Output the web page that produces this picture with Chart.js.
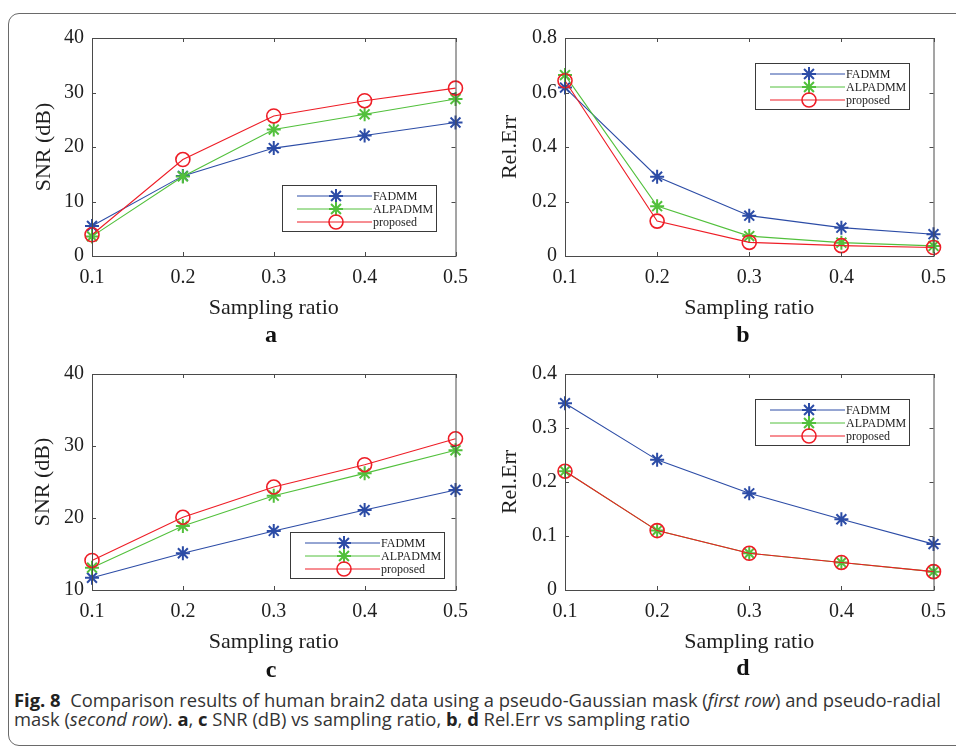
<!DOCTYPE html>
<html>
<head>
<meta charset="utf-8">
<script src="https://cdn.jsdelivr.net/npm/chart.js@4.4.1/dist/chart.umd.min.js"></script>
<style>
  body { margin: 0; background: #fff; width: 956px; height: 749px; overflow: hidden; position: relative; }
  .frame { position: absolute; left: 8px; top: 13px; width: 1000px; height: 731px; border: 1px solid #6a6a6a; border-radius: 11px; }
  .panel { position: absolute; }
  .letter { position: absolute; font: bold 24px "Liberation Serif", serif; line-height: 24px; color: #111; transform: translateX(-50%); }
  .cap { position: absolute; left: 14px; font: 18px "Open Sans", sans-serif; line-height: 20px; white-space: nowrap; transform-origin: 0 50%; color: #333; }
  .cap b { color: #222; }
</style>
</head>
<body>
<div class="frame"></div>

<div class="panel" style="left:0;top:0"><canvas id="chartA" width="478" height="326"></canvas></div>
<div class="panel" style="left:478px;top:0"><canvas id="chartB" width="478" height="326"></canvas></div>
<div class="panel" style="left:0;top:336px"><canvas id="chartC" width="478" height="324"></canvas></div>
<div class="panel" style="left:478px;top:336px"><canvas id="chartD" width="478" height="324"></canvas></div>

<div class="letter" style="left:271px;top:322px">a</div>
<div class="letter" style="left:743px;top:322px">b</div>
<div class="letter" style="left:271px;top:657px">c</div>
<div class="letter" style="left:743px;top:655px">d</div>

<div class="cap" id="cap1" style="top:690px"><b>Fig. 8</b>&nbsp; Comparison results of human brain2 data using a pseudo-Gaussian mask (<i>first row</i>) and pseudo-radial</div>
<div class="cap" id="cap2" style="top:709px">mask (<i>second row</i>). <b>a</b>, <b>c</b> SNR (dB) vs sampling ratio, <b>b</b>, <b>d</b> Rel.Err vs sampling ratio</div>

<script>
// data
const ratios = ['0.1', '0.2', '0.3', '0.4', '0.5'];
const methods = ['FADMM', 'ALPADMM', 'proposed'];

// a: SNR, pseudo-Gaussian mask
const snrGaussFADMM    = [5.5, 14.7, 19.8, 22.1, 24.5];
const snrGaussALPADMM  = [3.6, 14.6, 23.2, 26.0, 28.8];
const snrGaussProposed = [3.9, 17.7, 25.7, 28.5, 30.8];

// b: Rel.Err, pseudo-Gaussian mask
const errGaussFADMM    = [0.618, 0.291, 0.148, 0.104, 0.080];
const errGaussALPADMM  = [0.664, 0.183, 0.073, 0.049, 0.037];
const errGaussProposed = [0.643, 0.128, 0.050, 0.038, 0.031];

// c: SNR, pseudo-radial mask
const snrRadialFADMM    = [11.7, 15.1, 18.2, 21.1, 23.9];
const snrRadialALPADMM  = [13.1, 18.9, 23.1, 26.2, 29.4];
const snrRadialProposed = [14.1, 20.1, 24.3, 27.4, 31.0];

// d: Rel.Err, pseudo-radial mask
const errRadialFADMM    = [0.346, 0.241, 0.179, 0.131, 0.085];
const errRadialALPADMM  = [0.220, 0.110, 0.068, 0.051, 0.034];
const errRadialProposed = [0.220, 0.110, 0.068, 0.051, 0.034];

const colors = ['#2c4ca6', '#52c03c', '#ee1d26'];
const markers = ['star', 'star', 'circle'];
const markerWidths = [2, 2, 1.6];
const serif = '"Liberation Serif", "Times New Roman", serif';
const ink = '#1e1e1e';

function drawMarker(ctx, style, x, y, r) {
  ctx.beginPath();
  if (style === 'circle') {
    ctx.arc(x, y, r, 0, Math.PI * 2);
  } else {
    for (let k = 0; k < 4; k++) {
      const a = k * Math.PI / 4;
      ctx.moveTo(x - r * Math.cos(a), y - r * Math.sin(a));
      ctx.lineTo(x + r * Math.cos(a), y + r * Math.sin(a));
    }
  }
  ctx.stroke();
}

// MATLAB-style box, inward ticks and inset legend
const boxPlugin = {
  id: 'matlabBox',
  afterDraw(chart, args, opts) {
    const { ctx, chartArea: a, scales } = chart;
    ctx.save();
    ctx.strokeStyle = '#4a4a4a';
    ctx.lineWidth = 1;
    ctx.strokeRect(a.left + 0.5, a.top + 0.5, a.right - a.left, a.bottom - a.top);
    const tl = 4;
    ctx.beginPath();
    scales.x.ticks.forEach((t, i) => {
      const px = Math.round(scales.x.getPixelForTick(i)) + 0.5;
      ctx.moveTo(px, a.bottom); ctx.lineTo(px, a.bottom - tl);
      ctx.moveTo(px, a.top); ctx.lineTo(px, a.top + tl);
    });
    scales.y.ticks.forEach(t => {
      const py = Math.round(scales.y.getPixelForValue(t.value)) + 0.5;
      ctx.moveTo(a.left, py); ctx.lineTo(a.left + tl, py);
      ctx.moveTo(a.right, py); ctx.lineTo(a.right - tl, py);
    });
    ctx.stroke();

    // legend
    const w = 154, h = 46;
    const lx = a.left + opts.dx;
    const ly = opts.fromTop ? a.top + opts.dy : a.bottom - opts.dy - h;
    ctx.fillStyle = '#fff';
    ctx.fillRect(lx, ly, w, h);
    ctx.strokeStyle = '#3a3a3a';
    ctx.strokeRect(Math.round(lx) + 0.5, Math.round(ly) + 0.5, w, h);
    chart.data.datasets.forEach((ds, i) => {
      const ry = ly + 11 + i * 13;
      ctx.strokeStyle = ds.borderColor;
      ctx.lineWidth = 1;
      ctx.beginPath();
      ctx.moveTo(lx + 15, ry); ctx.lineTo(lx + 90, ry);
      ctx.stroke();
      ctx.lineWidth = ds.pointBorderWidth;
      drawMarker(ctx, ds.pointStyle, lx + 54, ry, 7);
      ctx.fillStyle = ink;
      ctx.font = '12px ' + serif;
      ctx.textBaseline = 'middle';
      ctx.textAlign = 'left';
      ctx.fillText(ds.label, lx + 91, ry + 1);
    });
    ctx.restore();
  }
};

function makeDatasets(seriesList) {
  return seriesList.map((vals, i) => ({
    label: methods[i],
    data: vals,
    borderColor: colors[i],
    backgroundColor: 'rgba(0,0,0,0)',
    borderWidth: 1.1,
    pointStyle: markers[i],
    pointRadius: 7,
    pointHoverRadius: 7,
    pointBorderWidth: markerWidths[i],
    pointBorderColor: colors[i],
    pointBackgroundColor: 'rgba(0,0,0,0)',
    tension: 0,
    clip: false,
    order: 2 - i
  }));
}

function makePanel(id, seriesList, yTitle, yMin, yMax, yStep, axisWidth, titlePad, padRight, legend) {
  new Chart(document.getElementById(id), {
    type: 'line',
    data: { labels: ratios, datasets: makeDatasets(seriesList) },
    options: {
      responsive: false,
      animation: false,
      events: [],
      layout: { padding: { top: 38, right: padRight, left: 0, bottom: 0 } },
      plugins: {
        legend: { display: false },
        tooltip: { enabled: false },
        matlabBox: legend
      },
      scales: {
        x: {
          type: 'category',
          offset: false,
          grid: { display: false, drawTicks: false },
          border: { display: false },
          ticks: { font: { family: serif, size: 20 }, color: ink, padding: 10, maxRotation: 0 },
          title: { display: true, text: 'Sampling ratio', font: { family: serif, size: 22 }, color: ink, padding: { top: 0, bottom: 5 } },
          afterFit(s) { s.height = 70; }
        },
        y: {
          min: yMin, max: yMax,
          grid: { display: false, drawTicks: false },
          border: { display: false },
          ticks: { stepSize: yStep, font: { family: serif, size: 20 }, color: ink, padding: 8 },
          title: { display: true, text: yTitle, font: { family: serif, size: 22 }, color: ink, padding: { top: titlePad, bottom: 0 } },
          afterFit(s) { s.width = axisWidth; }
        }
      }
    },
    plugins: [boxPlugin]
  });
}

makePanel('chartA', [snrGaussFADMM, snrGaussALPADMM, snrGaussProposed], 'SNR (dB)', 0, 40, 10, 92, 31, 17, { dx: 190, dy: 25, fromTop: false });
makePanel('chartB', [errGaussFADMM, errGaussALPADMM, errGaussProposed], 'Rel.Err', 0, 0.8, 0.2, 87, 19, 22, { dx: 190, dy: 25, fromTop: true });
makePanel('chartC', [snrRadialFADMM, snrRadialALPADMM, snrRadialProposed], 'SNR (dB)', 10, 40, 10, 92, 30, 17, { dx: 198, dy: 12, fromTop: false });
makePanel('chartD', [errRadialFADMM, errRadialALPADMM, errRadialProposed], 'Rel.Err', 0, 0.4, 0.1, 87, 19, 22, { dx: 190, dy: 25, fromTop: true });

// squeeze caption to the width of the condensed original font
const cap1 = document.getElementById('cap1');
const cap2 = document.getElementById('cap2');
const k = 927 / cap1.getBoundingClientRect().width;
cap1.style.transform = 'scaleX(' + k + ')';
cap2.style.transform = 'scaleX(' + k + ')';
</script>
</body>
</html>
